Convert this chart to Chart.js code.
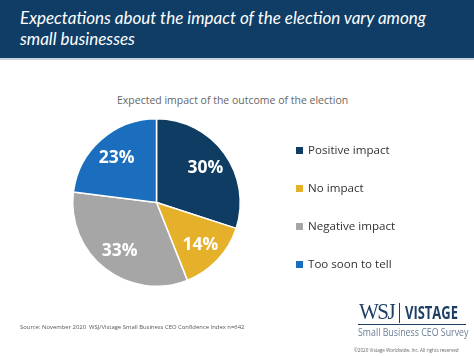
<!DOCTYPE html>
<html><head><meta charset="utf-8">
<script src="https://cdn.jsdelivr.net/npm/chart.js@4"></script>
<style>
html,body{margin:0;padding:0;width:474px;height:356px;overflow:hidden;background:#fff;font-family:Lato,"Open Sans",sans-serif;}
#hdr{position:absolute;left:0;top:0;width:474px;height:58px;background:#0f3d66;border-bottom:2px solid #c9d3dc;}
#hdr div{position:absolute;left:20px;top:7px;color:#fff;font-style:italic;font-size:17px;line-height:21px;font-family:Lato,sans-serif;}
#sub{position:absolute;left:117px;top:93px;color:#666;font-size:10.5px;font-family:"Open Sans",sans-serif;white-space:nowrap;}
#wrap{position:absolute;left:0;top:0;width:474px;height:356px;}
#legend{position:absolute;left:296px;top:142px;font-family:"Open Sans",sans-serif;font-size:11.6px;color:#333;}
#legend .it{height:38px;display:flex;align-items:flex-start;}
#legend .sw{width:7px;height:7px;margin-top:5px;margin-right:5px;}
#src{position:absolute;left:20px;top:323px;font-size:5.9px;color:#555;font-family:"Open Sans",sans-serif;white-space:nowrap;}
#logo{position:absolute;left:356px;top:298px;width:112px;height:58px;}
#logo div{position:absolute;white-space:nowrap;transform-origin:0 0;}
</style></head><body>
<div id="hdr"><div>Expectations about the impact of the election vary among<br>small businesses</div></div>
<div id="sub">Expected impact of the outcome of the election</div>
<div id="wrap"><canvas id="c" width="474" height="356"></canvas></div>
<div id="legend"></div>
<div id="src">Source: November 2020&nbsp; WSJ/Vistage Small Business CEO Confidence Index n=642</div>
<div id="logo">
 <div style="left:3px;top:3px;font-family:'Liberation Serif',serif;font-size:21px;line-height:21px;color:#1d3f66;letter-spacing:-1.5px;transform:scaleY(1.05);">WSJ</div>
 <div style="left:43px;top:5px;width:1px;height:20px;background:#1d3f66;"></div>
 <div style="left:49px;top:3px;font-family:'Open Sans',sans-serif;font-weight:700;font-size:18px;line-height:22px;color:#1d3f66;transform:scaleX(0.72);">VISTAGE</div>
 <div style="left:2px;top:26px;width:108px;height:1px;background:#1d3f66;"></div>
 <div style="left:2px;top:27px;font-family:'Open Sans',sans-serif;font-size:10.5px;line-height:14px;color:#6b7f95;transform:scaleX(0.84);">Small Business CEO Survey</div>
 <div style="left:-2px;top:49px;font-family:'Open Sans',sans-serif;font-size:4.6px;color:#666;">©2020 Vistage Worldwide, Inc. All rights reserved</div>
</div>
<script>
const categories = ["Positive impact","No impact","Negative impact","Too soon to tell"];
const values = [30,14,33,23];
const valueLabels = ["30%","14%","33%","23%"];
const colors = ["#0e3c63","#e6b12a","#a6a6a6","#1b6ebd"];

const lg = document.getElementById('legend');
categories.forEach((c,i)=>{
  const d=document.createElement('div');d.className='it';
  d.innerHTML='<span class="sw" style="background:'+colors[i]+'"></span><span>'+c+'</span>';
  lg.appendChild(d);
});

const labelPlugin = {
  id:'lbl',
  afterDatasetsDraw(chart){
    const ctx=chart.ctx; const meta=chart.getDatasetMeta(0);
    ctx.save();
    ctx.fillStyle='#fff';ctx.font='bold 17.5px "Open Sans", sans-serif';
    ctx.textAlign='center';ctx.textBaseline='middle';
    meta.data.forEach((arc,i)=>{
      const mid=(arc.startAngle+arc.endAngle)/2;
      const r=arc.outerRadius*0.72;
      ctx.fillText(valueLabels[i], arc.x+Math.cos(mid)*r, arc.y+Math.sin(mid)*r+1);
    });
    ctx.restore();
  }
};

new Chart(document.getElementById('c'),{
  type:'pie',
  data:{labels:categories,datasets:[{data:values,backgroundColor:colors,borderColor:'#fff',borderWidth:1.5}]},
  options:{
    responsive:false,animation:false,
    layout:{padding:{left:72,right:233,top:118,bottom:69}},
    plugins:{legend:{display:false},tooltip:{enabled:false}}
  },
  plugins:[labelPlugin]
});
</script>
</body></html>
